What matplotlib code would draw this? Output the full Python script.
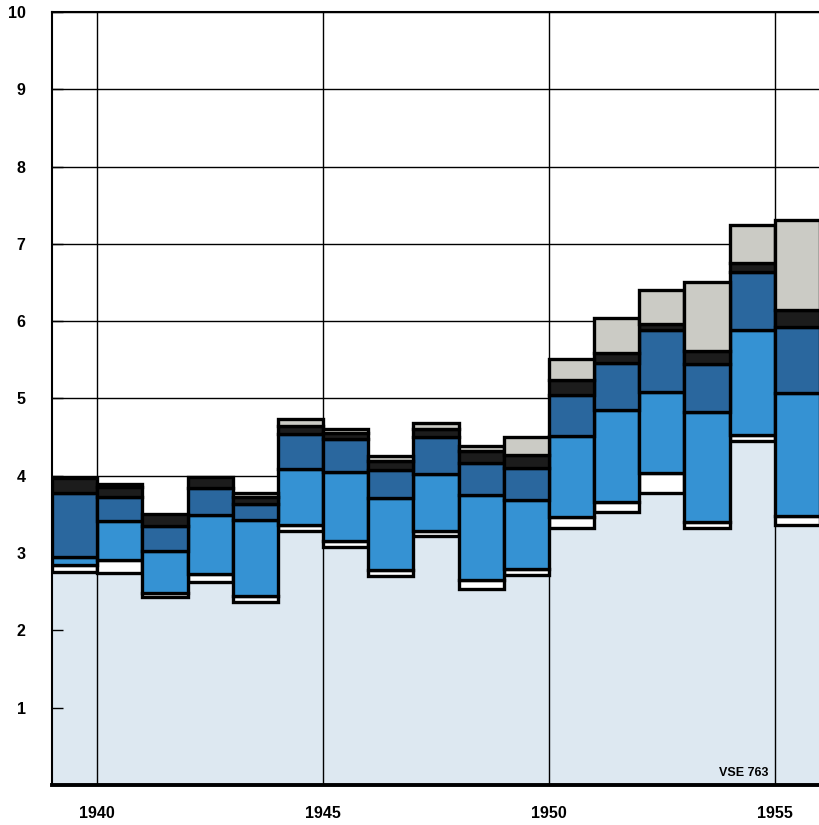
import numpy as np
import matplotlib
matplotlib.use("Agg")
import matplotlib.pyplot as plt

# Jahreswerte, von unten nach oben gestapelt
years = [1939, 1940, 1941, 1942, 1943, 1944, 1945, 1946, 1947,
         1948, 1949, 1950, 1951, 1952, 1953, 1954, 1955]
light_blue = [2.75, 2.74, 2.43, 2.63, 2.37, 3.28, 3.08, 2.70, 3.22,
              2.53, 2.72, 3.32, 3.53, 3.78, 3.33, 4.45, 3.36]
white_part = [0.10, 0.17, 0.06, 0.10, 0.07, 0.08, 0.08, 0.08, 0.06,
              0.12, 0.08, 0.15, 0.13, 0.26, 0.07, 0.08, 0.12]
mid_blue = [0.10, 0.50, 0.54, 0.76, 0.99, 0.73, 0.89, 0.93, 0.74,
            1.10, 0.89, 1.04, 1.19, 1.04, 1.43, 1.36, 1.59]
dark_blue = [0.83, 0.32, 0.32, 0.35, 0.20, 0.45, 0.43, 0.36, 0.48,
             0.42, 0.41, 0.54, 0.61, 0.81, 0.62, 0.75, 0.85]
black_part = [0.19, 0.12, 0.16, 0.14, 0.09, 0.10, 0.07, 0.12, 0.10,
              0.15, 0.17, 0.19, 0.13, 0.07, 0.16, 0.11, 0.22]
gray_part = [0.00, 0.04, 0.00, 0.00, 0.06, 0.10, 0.05, 0.07, 0.08,
             0.06, 0.23, 0.27, 0.45, 0.44, 0.90, 0.49, 1.17]

x_ticks = [1940, 1945, 1950, 1955]
y_ticks = [1, 2, 3, 4, 5, 6, 7, 8, 9, 10]

plt.rcParams['font.family'] = ['Liberation Sans', 'DejaVu Sans']

fig = plt.figure(figsize=(8.19, 8.25), dpi=100)
ax = fig.add_axes([52 / 819, 40 / 825, 768 / 819, 773 / 825])

x = np.array(years, dtype=float)

# horizontale Gitterlinien unter den Balken
for v in y_ticks:
    ax.axhline(v, color="black", lw=1.0, zorder=0)

# unterste Schicht ohne Umrandung
ax.bar(x, light_blue, width=1.0, align="edge", color="#dde8f1",
       linewidth=0, zorder=1)

layers = [
    (white_part, "#ffffff"),
    (mid_blue, "#3592d3"),
    (dark_blue, "#2a679e"),
    (black_part, "#1c1c1c"),
    (gray_part, "#cbcbc5"),
]
bottom = np.array(light_blue, dtype=float)
for vals, col in layers:
    vals = np.array(vals, dtype=float)
    mask = vals > 0
    ax.bar(x[mask], vals[mask], width=1.0, bottom=bottom[mask], align="edge",
           color=col, edgecolor="black", linewidth=2.4, zorder=3)
    bottom = bottom + vals

# vertikale Gitterlinien (durch die hellblaue Fläche sichtbar)
for xv in x_ticks:
    ax.axvline(xv, color="black", lw=1.0, zorder=2)

ax.set_xlim(1939, 1956)
ax.set_ylim(0, 10)
ax.set_xticks(x_ticks)
ax.set_xticklabels([str(t) for t in x_ticks], fontsize=11.5, fontweight="bold")
ax.set_yticks(y_ticks)
ax.set_yticklabels([str(t) for t in y_ticks], fontsize=11.5, fontweight="bold")
ax.tick_params(axis="x", length=0, pad=15)
ax.tick_params(axis="y", direction="in", length=8, width=1.0, pad=19)

ax.spines["right"].set_visible(False)
ax.spines["left"].set_linewidth(1.5)
ax.spines["top"].set_linewidth(1.5)
ax.spines["bottom"].set_linewidth(2.8)
for s in ax.spines.values():
    s.set_zorder(5)

ax.text(1954.85, 0.08, "VSE 763", ha="right", va="bottom",
        fontsize=9, fontweight="bold", zorder=6)

fig.savefig("out.png", dpi=100)
